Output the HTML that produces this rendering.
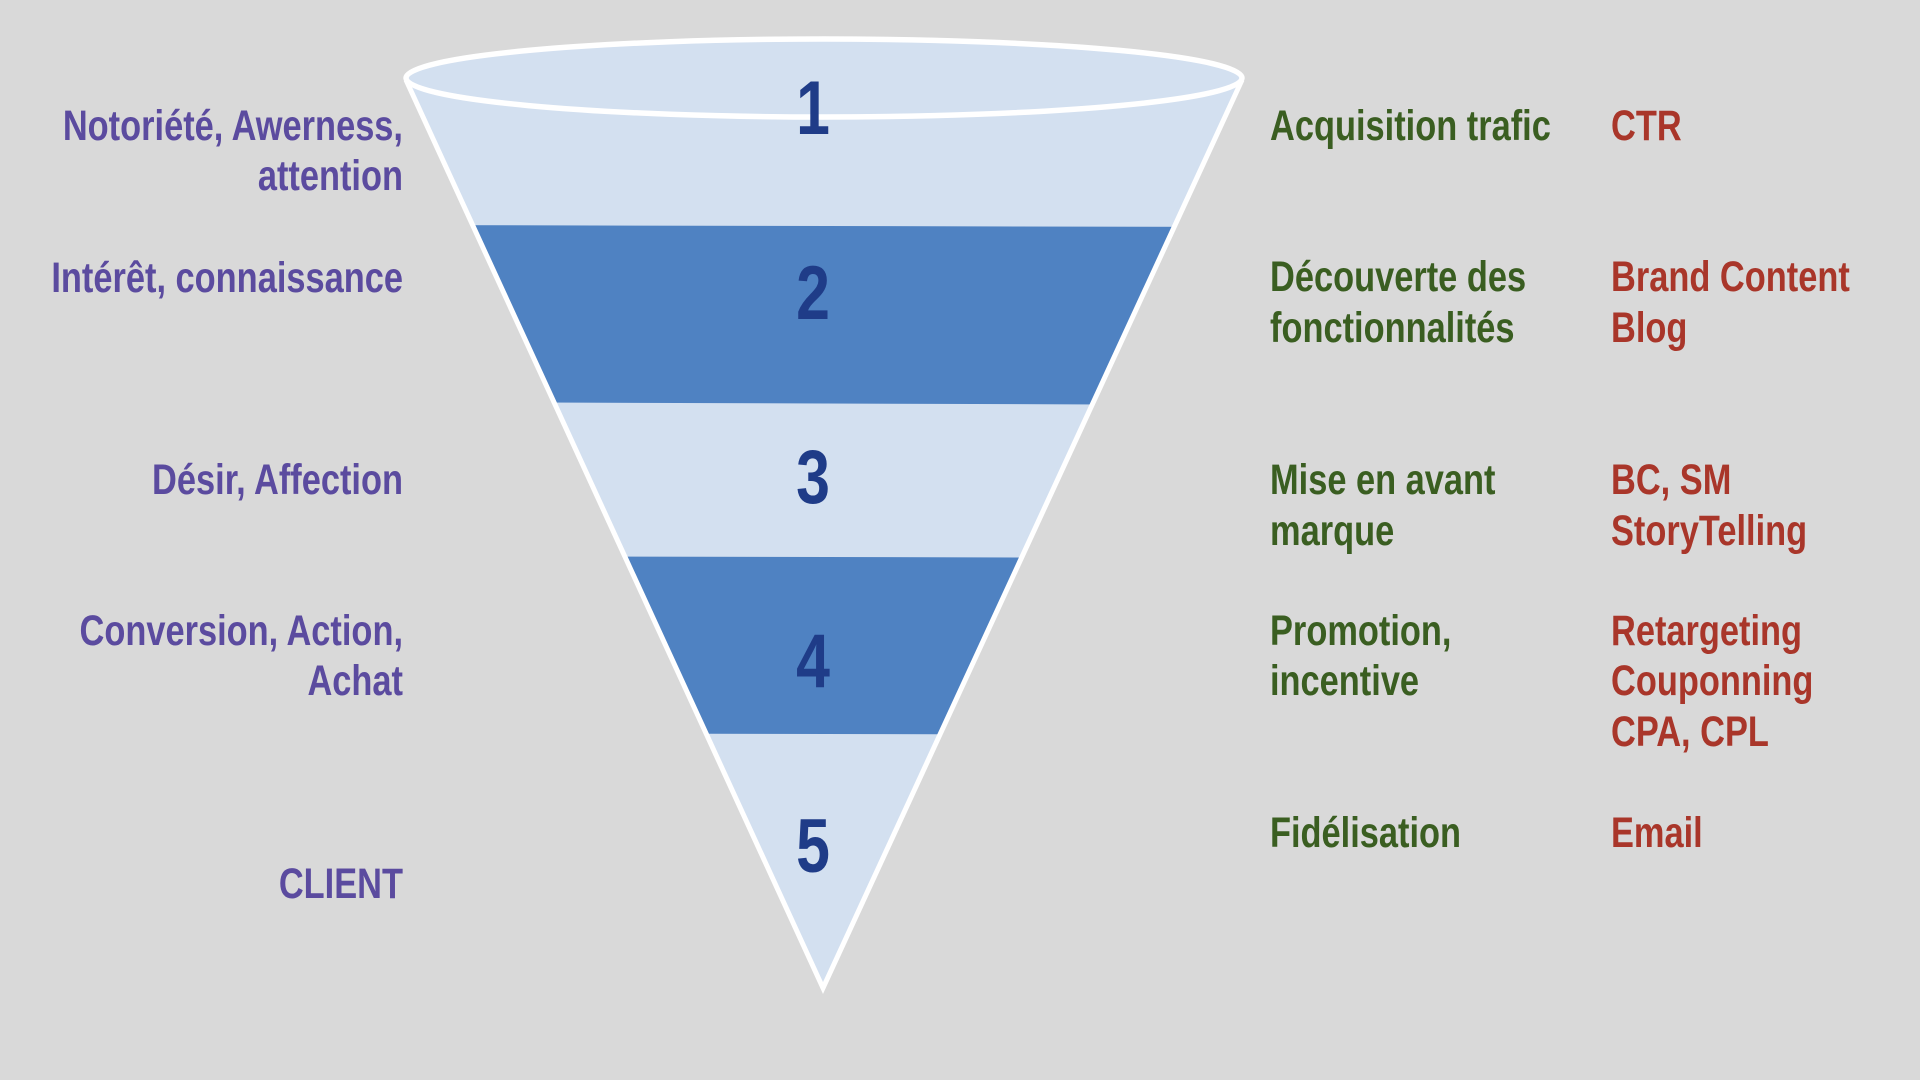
<!DOCTYPE html>
<html>
<head>
<meta charset="utf-8">
<style>
html,body{margin:0;padding:0;background:#d9d9d9;}
svg{display:block;}
text{font-family:"Liberation Sans",Arial,sans-serif;font-weight:bold;}
.l{fill:#5b4b9f;font-size:43px;}
.g{fill:#3a5e21;font-size:43px;}
.r{fill:#a9362a;font-size:43px;}
.n{fill:#1f3c88;font-size:76px;}
</style>
</head>
<body>
<svg width="1920" height="1080" viewBox="0 0 1920 1080" xmlns="http://www.w3.org/2000/svg">
<rect width="1920" height="1080" fill="#d9d9d9"/>
<defs>
<clipPath id="cone">
<polygon points="406,80 823,988 1242,80"/>
</clipPath>
</defs>
<!-- cone body -->
<polygon points="406,80 823,988 1242,80" fill="#d3e0f0"/>
<g clip-path="url(#cone)">
<polygon points="380,225 1260,227 1260,405 380,402" fill="#4f82c2"/>
<polygon points="380,556 1260,558 1260,735 380,733" fill="#4f82c2"/>
</g>
<!-- cone outline -->
<polyline points="406,80 823,988 1242,80" fill="none" stroke="#ffffff" stroke-width="5" stroke-linejoin="miter"/>
<!-- ellipse top -->
<ellipse cx="824" cy="78" rx="418" ry="39" fill="#d3e0f0" stroke="#ffffff" stroke-width="5.5"/>

<!-- numbers -->
<g class="n">
<text transform="translate(813,134) scale(0.8,1)" text-anchor="middle">1</text>
<text transform="translate(813,319) scale(0.8,1)" text-anchor="middle">2</text>
<text transform="translate(813,503) scale(0.8,1)" text-anchor="middle">3</text>
<text transform="translate(813,687) scale(0.8,1)" text-anchor="middle">4</text>
<text transform="translate(813,872) scale(0.8,1)" text-anchor="middle">5</text>
</g>

<!-- left labels -->
<g class="l" text-anchor="end">
<text transform="translate(403,140) scale(0.8,1)">Notoriété, Awerness,</text>
<text transform="translate(403,190) scale(0.8,1)">attention</text>
<text transform="translate(403,292) scale(0.8,1)">Intérêt, connaissance</text>
<text transform="translate(403,494) scale(0.8,1)">Désir, Affection</text>
<text transform="translate(403,645) scale(0.8,1)">Conversion, Action,</text>
<text transform="translate(403,695) scale(0.8,1)">Achat</text>
<text transform="translate(403,898) scale(0.8,1)">CLIENT</text>
</g>

<!-- right green -->
<g class="g">
<text transform="translate(1270,140) scale(0.8,1)">Acquisition trafic</text>
<text transform="translate(1270,291) scale(0.8,1)">Découverte des</text>
<text transform="translate(1270,342) scale(0.8,1)">fonctionnalités</text>
<text transform="translate(1270,494) scale(0.8,1)">Mise en avant</text>
<text transform="translate(1270,545) scale(0.8,1)">marque</text>
<text transform="translate(1270,645) scale(0.8,1)">Promotion,</text>
<text transform="translate(1270,695) scale(0.8,1)">incentive</text>
<text transform="translate(1270,847) scale(0.8,1)">Fidélisation</text>
</g>

<!-- right red -->
<g class="r">
<text transform="translate(1611,140) scale(0.8,1)">CTR</text>
<text transform="translate(1611,291) scale(0.8,1)">Brand Content</text>
<text transform="translate(1611,342) scale(0.8,1)">Blog</text>
<text transform="translate(1611,494) scale(0.8,1)">BC, SM</text>
<text transform="translate(1611,545) scale(0.8,1)">StoryTelling</text>
<text transform="translate(1611,645) scale(0.8,1)">Retargeting</text>
<text transform="translate(1611,695) scale(0.8,1)">Couponning</text>
<text transform="translate(1611,746) scale(0.8,1)">CPA, CPL</text>
<text transform="translate(1611,847) scale(0.8,1)">Email</text>
</g>
</svg>
</body>
</html>
